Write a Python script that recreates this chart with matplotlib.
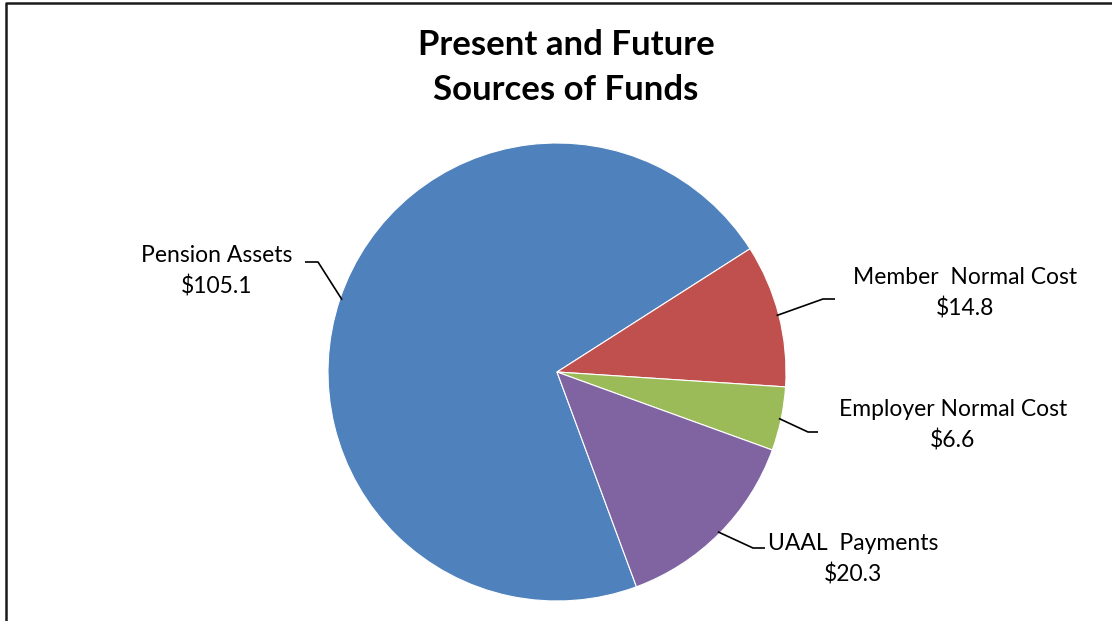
import numpy as np
import matplotlib.pyplot as plt

# Fuentes de fondos (millones)
categorias = ["Pension Assets", "Member  Normal Cost", "Employer Normal Cost", "UAAL  Payments"]
valores = [105.1, 14.8, 6.6, 20.3]
etiquetas = ["$105.1", "$14.8", "$6.6", "$20.3"]
colores = ["#4F81BD", "#C0504D", "#9BBB59", "#8064A2"]

W, H = 1112, 621
plt.rcParams["font.family"] = ["Lato", "DejaVu Sans"]

fig = plt.figure(figsize=(W / 100, H / 100), dpi=100)
ax = fig.add_axes([0, 0, 1, 1])

# Pie en coordenadas de pixel (y hacia arriba)
cx, cy, radio = 557, H - 372, 229
wedges, _ = ax.pie(valores, colors=colores, startangle=-69.7, counterclock=False,
                   center=(cx, cy), radius=radio, frame=True,
                   wedgeprops=dict(edgecolor="white", linewidth=0.8))
ax.set_xlim(0, W)
ax.set_ylim(0, H)
ax.set_aspect("equal")
ax.axis("off")

# Posicion de cada etiqueta y del codo de la linea guia
pos_texto = [(217, 256), (965, 278), (953, 409), (853, 544)]
codo = [((318, 262), (305, 262)), ((823, 299), (835, 299)),
        ((808, 432), (818, 432)), ((753, 548), (765, 548))]

for w, nombre, et, (tx, ty), (c1, c2) in zip(wedges, categorias, etiquetas, pos_texto, codo):
    ang = np.deg2rad((w.theta1 + w.theta2) / 2)
    px = cx + radio * 0.99 * np.cos(ang)
    py = cy + radio * 0.99 * np.sin(ang)
    ax.plot([px, c1[0], c2[0]], [py, H - c1[1], H - c2[1]], color="black", lw=1.2,
            solid_capstyle="butt")
    ax.text(tx, H - ty, nombre, ha="center", va="center", fontsize=16.5)
    ax.text(tx, H - ty - 31, et, ha="center", va="center", fontsize=16.5)

ax.text(566, H - 45, "Present and Future", ha="center", va="center",
        fontsize=25, fontweight="bold")
ax.text(566, H - 90, "Sources of Funds", ha="center", va="center",
        fontsize=25, fontweight="bold")

# Marco del grafico
ax.plot([5.5, 5.5, W], [0, H - 3, H - 3], color="#1a1a1a", lw=1.8, clip_on=False)

fig.savefig("out.png", dpi=100)
